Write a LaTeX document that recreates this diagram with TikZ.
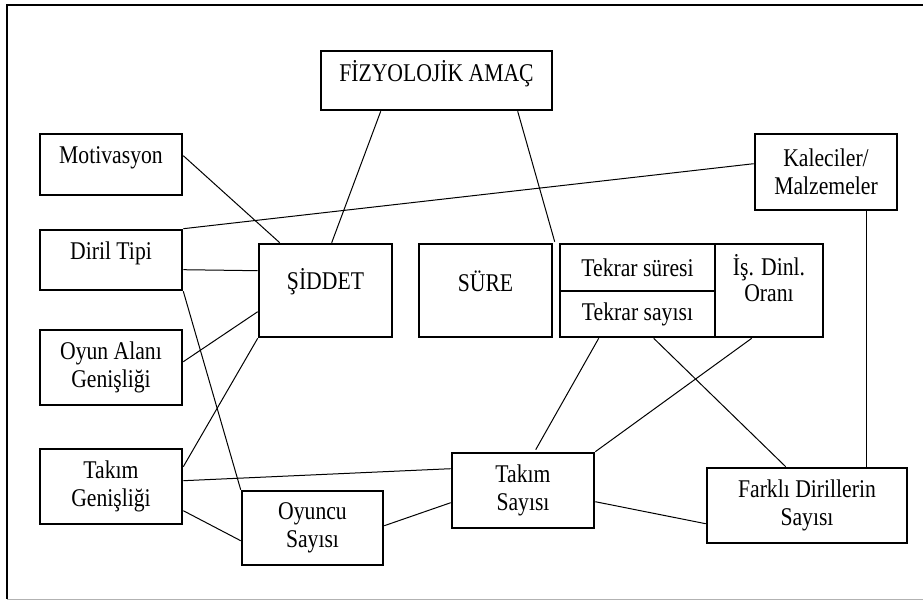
\documentclass[tikz,border=0pt]{standalone}
\usepackage{fontspec}
\setmainfont{Liberation Serif}[FakeStretch=0.85]
\usetikzlibrary{calc}
\newcommand{\lifted}[2]{\raisebox{#1}[\height][\depth]{#2}}
\begin{document}
\begin{tikzpicture}[x=1pt,y=-1pt,
  box/.style={draw,line width=2.6pt,inner sep=0pt,align=center,
    font=\fontsize{25.5}{28}\selectfont},
  link/.style={draw,line width=1pt}]
\useasboundingbox (0,0) rectangle (923,600);
% outer frame (open on the right)
\draw[line width=2pt] (923,5) -- (7,5) -- (7,599);
\draw[line width=0.8pt,gray!60] (7,599) -- (923,599);

% boxes
\node[box,minimum width=231pt,minimum height=59pt] (fiz) at (436.5,80.5) {\lifted{7pt}{FİZYOLOJİK AMAÇ}};
\node[box,minimum width=142pt,minimum height=61pt] (mot) at (111,164.5) {\lifted{7pt}{Motivasyon}};
\node[box,minimum width=142pt,minimum height=60pt] (diril) at (111,260) {\lifted{7pt}{Diril Tipi}};
\node[box,minimum width=133pt,minimum height=93pt] (siddet) at (325.5,290.5) {\lifted{9pt}{ŞİDDET}};
\node[box,minimum width=133pt,minimum height=93pt] (sure) at (485.5,290.5) {\lifted{9pt}{SÜRE}};
\node[box,minimum width=155pt,minimum height=47pt] (tsure) at (637.5,267.5) {Tekrar süresi};
\node[box,minimum width=155pt,minimum height=46pt] (tsayi) at (637.5,314) {Tekrar sayısı};
\node[box,minimum width=108pt,minimum height=93pt] (isd) at (769,290.5) {\lifted{8pt}{\begin{tabular}{@{}c@{}}İş. Dinl.\\[-2pt]Oranı\end{tabular}}};
\node[box,minimum width=142pt,minimum height=76pt] (kal) at (826,172) {Kaleciler/\\Malzemeler};
\node[box,minimum width=142pt,minimum height=75pt] (oyun) at (111,367.5) {Oyun Alanı\\Genişliği};
\node[box,minimum width=142pt,minimum height=75pt] (takgen) at (111,486.5) {Takım\\Genişliği};
\node[box,minimum width=141pt,minimum height=74pt] (oyuncu) at (312.5,528) {Oyuncu\\Sayısı};
\node[box,minimum width=142pt,minimum height=75pt] (taksay) at (523,490.5) {Takım\\Sayısı};
\node[box,minimum width=200pt,minimum height=75pt] (farkli) at (807,505.5) {Farklı Dirillerin\\Sayısı};

% connectors
\draw[link] ($(fiz.south west)+(61,0)$) -- ($(siddet.north west)+(74,0)$);
\draw[link] ($(fiz.south west)+(198,0)$) -- ($(tsure.north west)+(-4,-1)$);
\draw[link] ($(mot.north east)+(0,23)$) -- ($(siddet.north west)+(22,0)$);
\draw[link] ($(kal.north west)+(0,31)$) -- (diril.north east);
\draw[link] ($(diril.north east)+(0,41)$) -- ($(siddet.north west)+(0,28)$);
\draw[link] (diril.south east) -- (oyuncu.north west);
\draw[link] ($(oyun.north east)+(0,33)$) -- ($(siddet.north west)+(0,69)$);
\draw[link] ($(takgen.north east)+(0,19)$) -- (siddet.south west);
\draw[link] ($(takgen.north east)+(0,33)$) -- ($(taksay.north west)+(0,17)$);
\draw[link] ($(takgen.north east)+(0,63)$) -- ($(oyuncu.north west)+(0,51)$);
\draw[link] ($(oyuncu.north east)+(0,36)$) -- ($(taksay.north west)+(0,51)$);
\draw[link] ($(tsayi.south west)+(40,0)$) -- ($(taksay.north west)+(85,-2)$);
\draw[link] ($(isd.south west)+(38,0)$) -- (taksay.north east);
\draw[link] ($(tsayi.south west)+(95,0)$) -- ($(farkli.north west)+(80,0)$);
\draw[link] ($(kal.south west)+(113,0)$) -- ($(farkli.north west)+(161,0)$);
\draw[link] ($(taksay.north east)+(0,50)$) -- ($(farkli.north west)+(0,57)$);
\end{tikzpicture}
\end{document}
